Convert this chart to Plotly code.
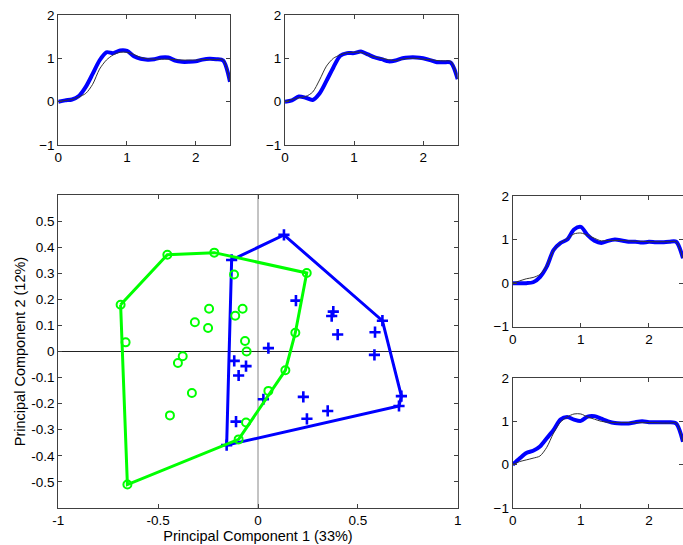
import plotly.graph_objects as go

# ---------------- data ----------------
# PCA scores, group 1 (green circles)
green_pc1 = [-0.688, -0.454, -0.219, 0.244, 0.187, 0.137, 0.052, -0.060, -0.097, -0.654,
             -0.120, -0.245, -0.077, -0.114, -0.316, -0.250, -0.065, -0.057, -0.377, -0.401,
             -0.331, -0.441, -0.663]
green_pc2 = [0.179, 0.371, 0.379, 0.301, 0.072, -0.072, -0.151, -0.272, -0.337, -0.510,
             0.295, 0.164, 0.164, 0.137, 0.112, 0.090, 0.040, 0.000, -0.018, -0.044,
             -0.159, -0.245, 0.035]
# PCA scores, group 2 (blue crosses)
blue_pc1 = [-0.132, 0.130, 0.623, 0.718, 0.706, -0.157,
            0.190, 0.377, 0.369, 0.399, 0.586, 0.583, 0.052, -0.119, -0.060, -0.097,
            0.027, 0.227, 0.245, 0.349, -0.110]
blue_pc2 = [0.351, 0.447, 0.118, -0.171, -0.209, -0.359,
            0.195, 0.153, 0.136, 0.065, 0.074, -0.013, 0.013, -0.036, -0.056, -0.092,
            -0.183, -0.174, -0.258, -0.228, -0.269]

# curves for the four small panels
t = [0.0, 0.1, 0.2, 0.3, 0.4, 0.5, 0.6, 0.7, 0.8, 0.9, 1.0, 1.1, 1.2, 1.3, 1.4,
     1.5, 1.6, 1.7, 1.8, 1.9, 2.0, 2.1, 2.2, 2.3, 2.4, 2.5]

tl_blue = [0.0, 0.03, 0.05, 0.13, 0.34, 0.64, 0.95, 1.14, 1.12, 1.18, 1.17, 1.05, 0.99,
           0.97, 0.98, 1.02, 1.02, 0.95, 0.92, 0.92, 0.93, 0.97, 0.99, 0.98, 0.95, 0.46]
tl_black = [0.0, 0.03, 0.05, 0.11, 0.19, 0.40, 0.75, 0.96, 1.08, 1.14, 1.14, 1.09, 1.02,
            0.99, 0.98, 0.98, 0.98, 0.97, 0.96, 0.96, 0.96, 0.97, 0.97, 0.97, 0.97, 0.46]

tr_blue = [0.0, 0.03, 0.12, 0.09, 0.04, 0.19, 0.48, 0.79, 1.06, 1.12, 1.12, 1.16, 1.09,
           1.02, 0.98, 0.93, 0.95, 1.00, 1.02, 1.02, 1.00, 0.96, 0.91, 0.91, 0.90, 0.52]
tr_black = [0.0, 0.05, 0.09, 0.12, 0.22, 0.50, 0.82, 1.00, 1.08, 1.13, 1.14, 1.14, 1.08,
            1.03, 1.00, 0.97, 0.95, 0.98, 1.00, 1.00, 0.98, 0.97, 0.95, 0.94, 0.93, 0.52]

rt_blue = [0.0, 0.0, 0.0, 0.02, 0.14, 0.38, 0.76, 0.92, 1.00, 1.23, 1.29, 1.10, 0.97,
           0.92, 0.97, 1.00, 0.98, 0.95, 0.95, 0.93, 0.95, 0.94, 0.94, 0.95, 0.95, 0.57]
rt_black = [0.0, 0.05, 0.10, 0.13, 0.20, 0.40, 0.75, 0.92, 1.02, 1.13, 1.15, 1.10, 1.03,
            0.97, 0.98, 0.98, 0.98, 0.97, 0.96, 0.96, 0.95, 0.95, 0.95, 0.95, 0.95, 0.57]

rb_blue = [0.0, 0.14, 0.27, 0.32, 0.42, 0.61, 0.80, 1.04, 1.10, 1.04, 1.01, 1.11, 1.12,
           1.06, 1.00, 0.96, 0.95, 0.95, 0.98, 1.00, 0.98, 0.98, 0.98, 0.98, 0.95, 0.53]
rb_black = [0.0, 0.07, 0.11, 0.15, 0.20, 0.40, 0.73, 0.98, 1.10, 1.17, 1.17, 1.10, 1.05,
            1.00, 0.98, 0.97, 0.97, 0.97, 0.97, 0.97, 0.97, 0.97, 0.96, 0.96, 0.96, 0.53]

main_xticks = [-1, -0.5, 0, 0.5, 1]
main_xticklabels = ["-1", "-0.5", "0", "0.5", "1"]
main_yticks = [-0.5, -0.4, -0.3, -0.2, -0.1, 0, 0.1, 0.2, 0.3, 0.4, 0.5]
main_yticklabels = ["-0.5", "-0.4", "-0.3", "-0.2", "-0.1", "0", "0.1", "0.2", "0.3", "0.4", "0.5"]
small_xticks = [0, 1, 2]
small_yticks = [-1, 0, 1, 2]


def hull(xs, ys):
    pts = sorted(set(zip(xs, ys)))

    def cross(o, a, b):
        return (a[0] - o[0]) * (b[1] - o[1]) - (a[1] - o[1]) * (b[0] - o[0])

    lower, upper = [], []
    for p in pts:
        while len(lower) >= 2 and cross(lower[-2], lower[-1], p) <= 0:
            lower.pop()
        lower.append(p)
    for p in reversed(pts):
        while len(upper) >= 2 and cross(upper[-2], upper[-1], p) <= 0:
            upper.pop()
        upper.append(p)
    h = lower[:-1] + upper[:-1]
    h.append(h[0])
    return [p[0] for p in h], [p[1] for p in h]


GREEN = "#00ff00"
BLUE = "#0000ff"
FRAME = "#404040"
FONT = "Arial, Liberation Sans, sans-serif"

fig = go.Figure()

# ---------- main PCA panel ----------
fig.add_trace(go.Scatter(x=[0, 0], y=[-0.6, 0.6], mode="lines",
                         line=dict(color="#888888", width=1), xaxis="x", yaxis="y",
                         showlegend=False, hoverinfo="skip"))
fig.add_trace(go.Scatter(x=[-1, 1], y=[0, 0], mode="lines",
                         line=dict(color="#222222", width=1), xaxis="x", yaxis="y",
                         showlegend=False, hoverinfo="skip"))

gx, gy = hull(green_pc1, green_pc2)
bx, by = hull(blue_pc1, blue_pc2)
fig.add_trace(go.Scatter(x=bx, y=by, mode="lines", line=dict(color=BLUE, width=3),
                         xaxis="x", yaxis="y", showlegend=False))
fig.add_trace(go.Scatter(x=blue_pc1, y=blue_pc2, mode="markers",
                         marker=dict(symbol="cross-thin", size=8, color=BLUE,
                                     line=dict(color=BLUE, width=2.6)),
                         xaxis="x", yaxis="y", showlegend=False))
fig.add_trace(go.Scatter(x=gx, y=gy, mode="lines", line=dict(color=GREEN, width=3),
                         xaxis="x", yaxis="y", showlegend=False))
fig.add_trace(go.Scatter(x=green_pc1, y=green_pc2, mode="markers",
                         marker=dict(symbol="circle-open", size=8, color=GREEN,
                                     line=dict(color=GREEN, width=2)),
                         xaxis="x", yaxis="y", showlegend=False))

# ---------- small panels ----------
panels = [("x2", "y2", tl_black, tl_blue),
          ("x3", "y3", tr_black, tr_blue),
          ("x4", "y4", rt_black, rt_blue),
          ("x5", "y5", rb_black, rb_blue)]
for xa, ya, blk, blu in panels:
    fig.add_trace(go.Scatter(x=t, y=blu, mode="lines",
                             line=dict(color=BLUE, width=4, shape="spline", smoothing=0.8),
                             xaxis=xa, yaxis=ya, showlegend=False))
    fig.add_trace(go.Scatter(x=t, y=blk, mode="lines",
                             line=dict(color="#333333", width=1, shape="spline", smoothing=0.8),
                             xaxis=xa, yaxis=ya, showlegend=False))


def ax(domain, rng, tickvals, ticktext=None, anchor=None, title=None):
    d = dict(domain=domain, range=rng, tickvals=tickvals,
             ticks="inside", ticklen=4, tickcolor=FRAME, tickwidth=1,
             showline=True, linecolor=FRAME, linewidth=1, mirror="ticks",
             showgrid=False, zeroline=False, automargin=False,
             tickfont=dict(family=FONT, size=13.5, color="#000000"),
             anchor=anchor)
    if ticktext is not None:
        d["ticktext"] = ticktext
    if title is not None:
        d["title"] = dict(text=title, font=dict(family=FONT, size=14.5, color="#000000"),
                          standoff=2)
    return d


main_xd = [58.3 / 683, 457.7 / 683]
main_yd = [37 / 545, 350 / 545]
tl_xd = [58.3 / 683, 230 / 683]
tr_xd = [285 / 683, 457.7 / 683]
top_yd = [400 / 545, 530 / 545]
r_xd = [512.7 / 683, 1.0]
rt_yd = [218.3 / 545, 349 / 545]
rb_yd = [37 / 545, 167 / 545]

fig.update_layout(
    width=683, height=545,
    margin=dict(l=0, r=0, t=0, b=0),
    paper_bgcolor="white", plot_bgcolor="white",
    template="none",
    font=dict(family=FONT, size=13, color="#000000"),
    xaxis=ax(main_xd, [-1, 1], main_xticks, main_xticklabels, "y",
             "Principal Component 1 (33%)"),
    yaxis=ax(main_yd, [-0.6, 0.6], main_yticks, main_yticklabels, "x",
             "Principal Component 2 (12%)"),
    xaxis2=ax(tl_xd, [0, 2.5], small_xticks, anchor="y2"),
    yaxis2=ax(top_yd, [-1, 2], small_yticks, anchor="x2"),
    xaxis3=ax(tr_xd, [0, 2.5], small_xticks, anchor="y3"),
    yaxis3=ax(top_yd, [-1, 2], small_yticks, anchor="x3"),
    xaxis4=ax(r_xd, [0, 2.5], small_xticks, anchor="y4"),
    yaxis4=ax(rt_yd, [-1, 2], small_yticks, anchor="x4"),
    xaxis5=ax(r_xd, [0, 2.5], small_xticks, anchor="y5"),
    yaxis5=ax(rb_yd, [-1, 2], small_yticks, anchor="x5"),
)

fig.write_html("out.html")
